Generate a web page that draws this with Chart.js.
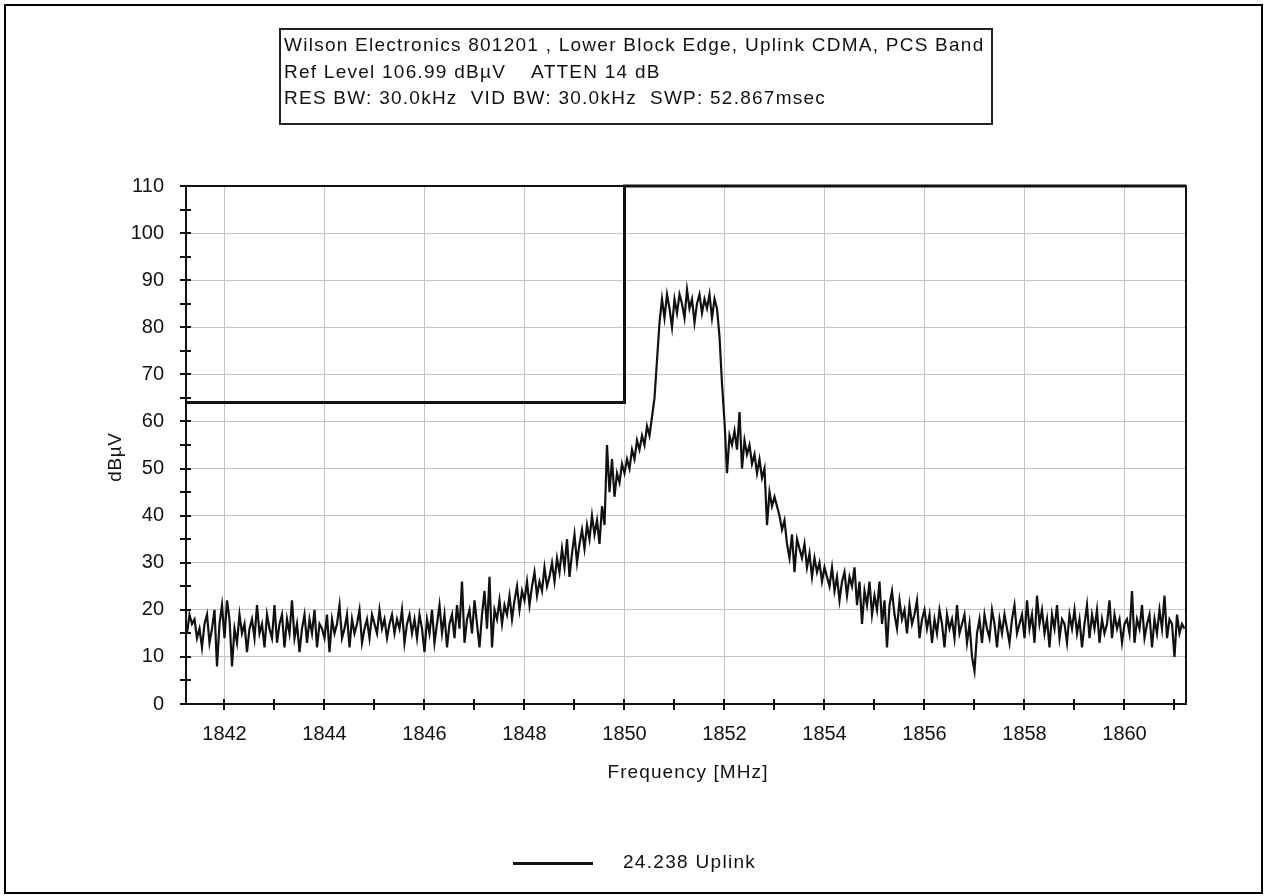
<!DOCTYPE html>
<html>
<head>
<meta charset="utf-8">
<title>Wilson Electronics 801201 - Lower Block Edge</title>
<script src="https://cdn.jsdelivr.net/npm/chart.js@4.4.1/dist/chart.umd.min.js"></script>
<style>
  html, body { margin: 0; padding: 0; background: #fff; }
  body { width: 1267px; height: 896px; position: relative; overflow: hidden;
         font-family: "Liberation Sans", Arial, sans-serif; color: #111; }
  #chart { position: absolute; left: 0; top: 0; }
  #frame { position: absolute; left: 4px; top: 4px; width: 1255px; height: 886px; border: 2px solid #000; }
  #infoBox { position: absolute; left: 279px; top: 28px; width: 707px; height: 91px;
             border: 2px solid #222; padding: 2px 0 0 3px; box-sizing: content-box;
             font-size: 19px; letter-spacing: 1.25px; line-height: 26.5px; white-space: pre; }
  #legendLine { position: absolute; left: 513px; top: 862px; width: 80px; height: 3px; background: #111; }
  #legendText { position: absolute; left: 623px; top: 851px; font-size: 19px; letter-spacing: 1.3px; white-space: pre; }
  #xTitle { position: absolute; left: 588px; width: 200px; top: 761px; text-align: center;
            font-size: 19px; letter-spacing: 1.1px; white-space: pre; }
  #yTitle { position: absolute; left: 15px; width: 200px; top: 446px; text-align: center;
            font-size: 19px; letter-spacing: 0.6px; white-space: pre; transform: rotate(-90deg); }
</style>
</head>
<body>
<canvas id="chart" width="1267" height="896"></canvas>
<div id="frame"></div>
<div id="infoBox"></div>
<div id="xTitle"></div>
<div id="yTitle"></div>
<div id="legendLine"></div>
<div id="legendText"></div>
<script>
const headerLines = [
    "Wilson Electronics 801201 , Lower Block Edge, Uplink CDMA, PCS Band",
    "Ref Level 106.99 dB\u00b5V    ATTEN 14 dB",
    "RES BW: 30.0kHz  VID BW: 30.0kHz  SWP: 52.867msec"
];
const traceName = "24.238 Uplink";
const xTitleText = "Frequency [MHz]";
const yTitleText = "dB\u00b5V";

const freqMin = 1841.23;
const freqMax = 1861.23;
const xTickValues = [1842, 1844, 1846, 1848, 1850, 1852, 1854, 1856, 1858, 1860];
const xMinorTicks = [1842, 1843, 1844, 1845, 1846, 1847, 1848, 1849, 1850, 1851, 1852,
                     1853, 1854, 1855, 1856, 1857, 1858, 1859, 1860, 1861];
const yTickValues = [0, 10, 20, 30, 40, 50, 60, 70, 80, 90, 100, 110];
const yMinorTicks = [0, 5, 10, 15, 20, 25, 30, 35, 40, 45, 50, 55, 60, 65, 70, 75, 80,
                     85, 90, 95, 100, 105, 110];

// limit mask (dBuV)
const limitFreqs = [1841.23, 1850, 1850, 1861.23];
const limitLevels = [64, 64, 110, 110];

// sweep: 1841.25 MHz, 0.05 MHz per point
const sweepStart = 1841.25;
const sweepStep = 0.05;
const traceLevels = [
    15, 19, 17, 18, 14, 16, 12, 17, 19, 13, 16, 20, 8, 17, 21, 14, 22, 18, 8, 16,
    13, 19, 15, 17, 11, 16, 18, 14, 21, 15, 17, 12, 19, 16, 14, 21, 13, 17, 19, 12,
    18, 15, 22, 14, 17, 11, 16, 19, 13, 18, 15, 20, 12, 17, 16, 14, 19, 11, 18, 15,
    17, 21, 14, 16, 19, 12, 18, 15, 17, 20, 13, 16, 18, 14, 19, 17, 15, 20, 16, 18,
    14, 17, 19, 15, 18, 16, 20, 13, 17, 19, 15, 18, 14, 19, 16, 11, 18, 15, 20, 13,
    17, 21, 15, 19, 12, 17, 19, 14, 21, 16, 26, 13, 18, 20, 15, 22, 17, 12, 19, 24,
    16, 27, 12, 20, 18, 22, 17, 21, 19, 23, 18, 22, 25, 20, 24, 22, 26, 21, 25, 28,
    23, 26, 24, 29, 25, 27, 30, 26, 31, 28, 33, 29, 35, 27, 32, 36, 30, 34, 37, 33,
    38, 35, 40, 36, 39, 34, 42, 38, 55, 45, 52, 44, 49, 47, 51, 49, 52, 50, 54, 52,
    56, 54, 57, 55, 59, 57, 61, 65, 73, 81, 86, 82, 87, 84, 80, 86, 83, 87, 85, 82,
    88, 84, 86, 81, 85, 87, 83, 86, 84, 87, 82, 86, 84, 78, 68, 60, 49, 57, 55, 58,
    54, 62, 50, 56, 53, 55, 51, 53, 49, 52, 48, 50, 38, 45, 42, 44, 42, 40, 37, 39,
    34, 31, 36, 28, 35, 33, 31, 34, 29, 32, 27, 31, 28, 30, 26, 29, 27, 25, 29, 24,
    27, 22, 26, 28, 23, 27, 25, 29, 21, 26, 17, 24, 21, 26, 19, 23, 20, 26, 17, 22,
    12, 21, 24, 19, 16, 22, 18, 20, 15, 21, 17, 19, 22, 14, 18, 20, 16, 19, 13, 18,
    15, 20, 17, 12, 19, 16, 18, 14, 21, 15, 17, 19, 13, 17, 10, 7, 15, 18, 13, 19,
    16, 14, 20, 17, 12, 18, 15, 19, 16, 13, 18, 21, 15, 17, 19, 14, 22, 16, 19, 13,
    23, 17, 20, 15, 18, 12, 19, 16, 21, 14, 18, 17, 13, 19, 16, 20, 15, 18, 12, 17,
    21, 14, 19, 16, 20, 13, 18, 15, 17, 22, 14, 19, 16, 18, 13, 17, 18, 15, 24, 13,
    18, 16, 21, 14, 17, 19, 12, 18, 15, 20, 16, 23, 14, 18, 17, 10, 19, 15, 17, 16
];

const fontFamily = '"Liberation Sans", Arial, sans-serif';
const inkColor = '#111';

document.getElementById('infoBox').textContent = headerLines.join('\n');
document.getElementById('legendText').textContent = traceName;
document.getElementById('xTitle').textContent = xTitleText;
document.getElementById('yTitle').textContent = yTitleText;

const tracePoints = traceLevels.map((v, i) => ({ x: sweepStart + i * sweepStep, y: v }));
const limitPoints = limitFreqs.map((f, i) => ({ x: f, y: limitLevels[i] }));

// frame round the plot and the short ticks that cross both axes
const axisMarks = {
    id: 'axisMarks',
    afterDatasetsDraw(chart) {
        const ctx = chart.ctx;
        const area = chart.chartArea;
        const xs = chart.scales.x;
        const ys = chart.scales.y;
        ctx.save();
        ctx.strokeStyle = inkColor;
        ctx.lineWidth = 2;
        ctx.strokeRect(area.left, area.top, area.right - area.left, area.bottom - area.top);
        ctx.beginPath();
        xMinorTicks.forEach(v => {
            const px = Math.round(xs.getPixelForValue(v));
            ctx.moveTo(px, area.bottom - 5);
            ctx.lineTo(px, area.bottom + 6);
        });
        yMinorTicks.forEach(v => {
            const py = Math.round(ys.getPixelForValue(v));
            ctx.moveTo(area.left - 6, py);
            ctx.lineTo(area.left + 5, py);
        });
        ctx.stroke();
        ctx.restore();
    }
};

const chart = new Chart(document.getElementById('chart'), {
    type: 'line',
    data: {
        datasets: [{
            label: traceName,
            data: tracePoints,
            borderColor: inkColor,
            borderWidth: 2.2,
            pointRadius: 0,
            tension: 0,
            fill: false
        }, {
            label: 'Limit',
            data: limitPoints,
            borderColor: inkColor,
            borderWidth: 3,
            pointRadius: 0,
            tension: 0,
            fill: false,
            clip: 4
        }]
    },
    options: {
        responsive: false,
        animation: false,
        devicePixelRatio: 1,
        layout: { padding: { left: 0, top: 186, right: 81, bottom: 0 } },
        plugins: {
            legend: { display: false },
            tooltip: { enabled: false }
        },
        scales: {
            x: {
                type: 'linear',
                min: freqMin,
                max: freqMax,
                afterBuildTicks: s => { s.ticks = xTickValues.map(v => ({ value: v })); },
                afterFit: s => { s.height = 192; },
                ticks: {
                    autoSkip: false,
                    maxRotation: 0,
                    padding: 18,
                    color: inkColor,
                    font: { family: fontFamily, size: 20 },
                    callback: v => String(v)
                },
                grid: { color: '#c4c4c4', lineWidth: 1, drawTicks: false },
                border: { display: false }
            },
            y: {
                min: 0,
                max: 110,
                afterBuildTicks: s => { s.ticks = yTickValues.map(v => ({ value: v })); },
                afterFit: s => { s.width = 186; },
                ticks: {
                    padding: 22,
                    color: inkColor,
                    font: { family: fontFamily, size: 20 },
                    callback: v => String(v)
                },
                grid: { color: '#c4c4c4', lineWidth: 1, drawTicks: false },
                border: { display: false }
            }
        }
    },
    plugins: [axisMarks]
});
</script>
</body>
</html>
